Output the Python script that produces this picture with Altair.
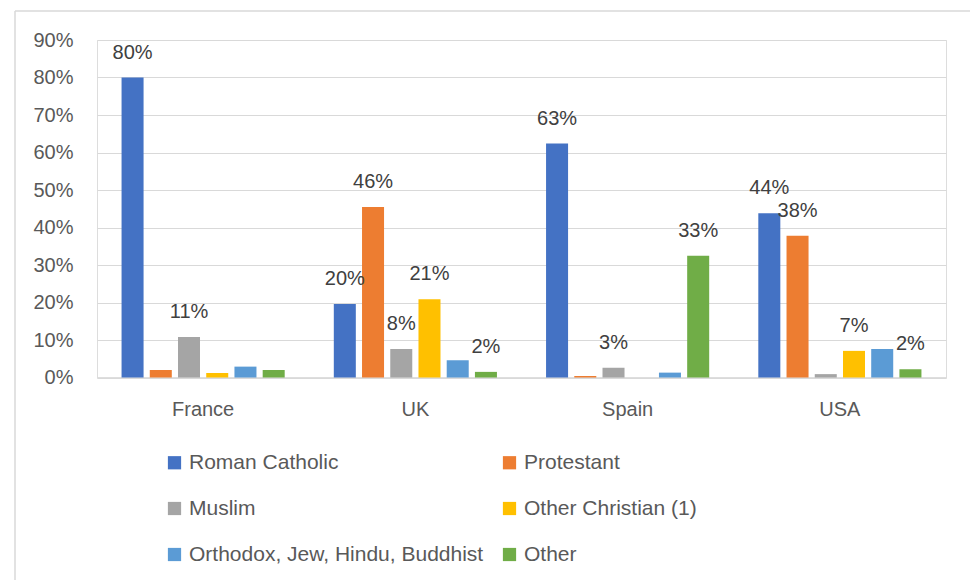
import altair as alt
import pandas as pd

countries = ["France", "UK", "Spain", "USA"]
religions = ["Roman Catholic", "Protestant", "Muslim", "Other Christian (1)",
             "Orthodox, Jew, Hindu, Buddhist", "Other"]
colors = ["#4472C4", "#ED7D31", "#A5A5A5", "#FFC000", "#5B9BD5", "#70AD47"]

# percentages, one list per country (order = religions)
france = [80.0, 2.0, 10.8, 1.2, 2.9, 2.0]
uk = [19.6, 45.5, 7.6, 20.9, 4.6, 1.5]
spain = [62.4, 0.4, 2.6, 0.0, 1.3, 32.5]
usa = [43.8, 37.8, 0.9, 7.1, 7.6, 2.2]

# data labels shown in the picture (None = no label)
france_lbl = ["80%", None, "11%", None, None, None]
uk_lbl = ["20%", "46%", "8%", "21%", None, "2%"]
spain_lbl = ["63%", None, "3%", None, None, "33%"]
usa_lbl = ["44%", "38%", None, "7%", None, "2%"]

y_ticks = [0, 0.1, 0.2, 0.3, 0.4, 0.5, 0.6, 0.7, 0.8, 0.9]

rows = []
for c, vals, lbls in zip(countries, [france, uk, spain, usa],
                         [france_lbl, uk_lbl, spain_lbl, usa_lbl]):
    for r, v, l in zip(religions, vals, lbls):
        rows.append({"country": c, "religion": r, "value": v / 100.0, "label": l})
df = pd.DataFrame(rows)

FONT = "Liberation Sans"

x_enc = alt.X("country:N", sort=countries,
              scale=alt.Scale(paddingInner=0, paddingOuter=0),
              axis=alt.Axis(title=None, labelAngle=0, ticks=False,
                            labelPadding=22, labelFontSize=20,
                            labelColor="#595959", labelFont=FONT,
                            domainColor="#d9d9d9", domainWidth=1.5,
                            grid=False))
xoff = alt.XOffset("religion:N", sort=religions,
                   scale=alt.Scale(paddingInner=0.22, paddingOuter=0.87))
y_enc = alt.Y("value:Q", scale=alt.Scale(domain=[0, 0.9], nice=False),
              axis=alt.Axis(title=None, format=".0%",
                            values=y_ticks, tickCount=10,
                            ticks=False, domain=False, labelPadding=24,
                            labelOverlap=False,
                            labelFontSize=20, labelColor="#595959",
                            labelFont=FONT, gridColor="#d9d9d9",
                            gridWidth=1.2))

bars = alt.Chart(df).mark_bar().encode(
    x=x_enc,
    xOffset=xoff,
    y=y_enc,
    color=alt.Color("religion:N", sort=religions,
                    scale=alt.Scale(domain=religions, range=colors),
                    legend=alt.Legend(title=None, orient="none",
                                      legendX=67, legendY=412,
                                      direction="horizontal",
                                      columns=2, columnPadding=15,
                                      rowPadding=24, symbolType="square",
                                      symbolSize=175, symbolStrokeWidth=0,
                                      labelFontSize=21, labelFont=FONT,
                                      labelColor="#595959", labelOffset=4,
                                      labelLimit=400)),
)

texts = alt.Chart(df).transform_filter(
    alt.datum.label != None
).mark_text(dy=-25, fontSize=20, font=FONT, color="#404040",
            baseline="middle").encode(
    x=x_enc,
    xOffset=xoff,
    y=y_enc,
    text="label:N",
)

frame_df = pd.DataFrame({"k": [0]})
top_line = alt.Chart(frame_df).mark_rule(color="#d9d9d9", strokeWidth=1.5).encode(
    x=alt.value(-82), x2=alt.value(880), y=alt.value(-29))
left_line = alt.Chart(frame_df).mark_rule(color="#d9d9d9", strokeWidth=1.5).encode(
    x=alt.value(-82), y=alt.value(-29), y2=alt.value(560))

chart = alt.layer(bars, texts, top_line, left_line).properties(
    width=849, height=337.5,
    autosize=alt.AutoSizeParams(type="none"),
    padding={"left": 97, "top": 40, "right": 24, "bottom": 202.5},
).configure_view(stroke=None).configure(background="white")

chart.save("out.html", embed_options={"renderer": "svg", "actions": False})
